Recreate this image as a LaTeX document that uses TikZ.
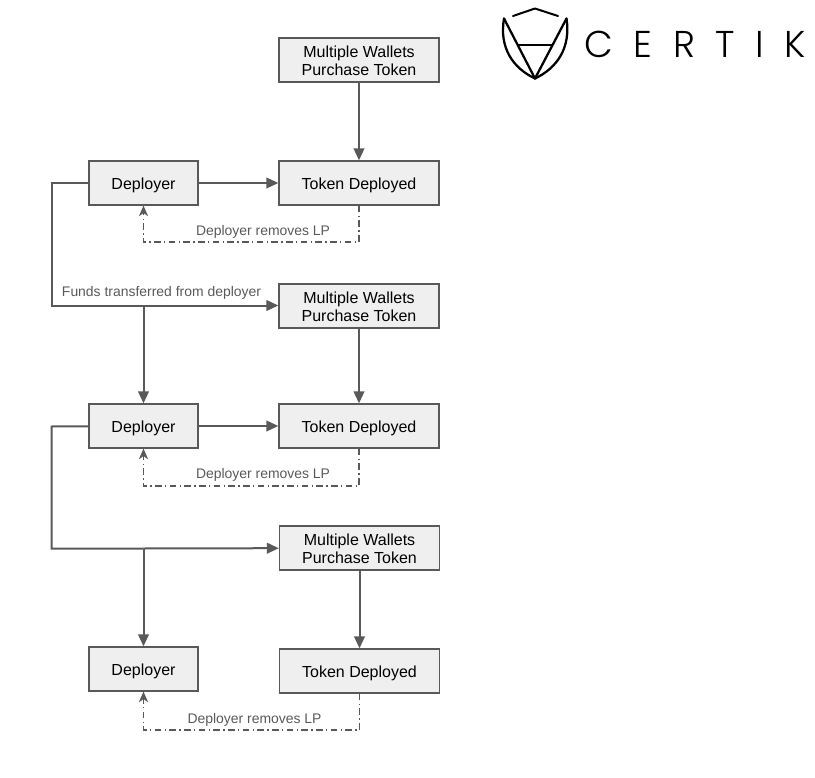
\documentclass[tikz,border=0pt]{standalone}
\usepackage{fontspec}
\setmainfont{Liberation Sans}
\newfontfamily\logofont[LetterSpace=55]{Poppins Light}
\usetikzlibrary{arrows.meta}
\definecolor{linegrey}{HTML}{595959}
\definecolor{boxgrey}{HTML}{EFEFEF}
\tikzset{every picture/.style={line width=0.75pt}}
\tikzset{
  flowbox/.style={draw=linegrey,fill=boxgrey,line width=1pt,minimum height=33pt,inner sep=0pt,align=center,font=\fontsize{12}{13.5}\selectfont},
  deployerbox/.style={flowbox,minimum width=81.75pt,text height=9.2pt,text depth=0pt},
  tokenbox/.style={flowbox,minimum width=120pt,text height=9.2pt,text depth=0pt},
  walletbox/.style={flowbox,minimum width=120pt},
  flowline/.style={draw=linegrey,line width=1.5pt,-{Triangle[length=9pt,width=8pt]}},
  fundsline/.style={draw=linegrey,line width=1.5pt},
  returnline/.style={draw=linegrey,line width=0.8pt,dash pattern=on 5pt off 2.5pt on 1pt off 2.5pt,-{Stealth[length=8pt,width=7pt,inset=2.5pt]}},
  notelabel/.style={text=linegrey,inner sep=0.75pt,font=\fontsize{10.45}{12}\selectfont}
}
\newcommand{\walletlabel}{\rule{0pt}{9.5pt}Multiple Wallets\\Purchase Token}

\begin{document}
\begin{tikzpicture}[x=0.75pt,y=0.75pt,yscale=-1,xscale=1]
\useasboundingbox (0,0) rectangle (815,778);

% Boxes
\node [walletbox] (wallets1) at (359,60) {\walletlabel};
\node [tokenbox] (token1) at (359,183) {Token Deployed};
\node [deployerbox] (deployer1) at (143.5,183) {Deployer};
\node [walletbox] (wallets2) at (359,306) {\walletlabel};
\node [tokenbox] (token2) at (359,426) {Token Deployed};
\node [deployerbox] (deployer2) at (143.5,426) {Deployer};
\node [walletbox] (wallets3) at (359.5,548) {\walletlabel};
\node [tokenbox] (token3) at (359.5,671) {Token Deployed};
\node [deployerbox] (deployer3) at (143.5,669) {Deployer};

% Turning points
\coordinate (corner1) at (51.5,183);
\coordinate (corner2) at (51.5,305.5);
\coordinate (branch1) at (143.5,305.5);
\coordinate (corner3) at (51.5,426.5);
\coordinate (corner4) at (51.5,548.5);
\coordinate (branch2) at (143.5,548.5);
\coordinate (back1a) at (359,242);
\coordinate (back1b) at (143.5,242);
\coordinate (back2a) at (359,486);
\coordinate (back2b) at (143.5,486);
\coordinate (back3a) at (359.5,730);
\coordinate (back3b) at (143.5,730);

%Straight Lines
\draw [flowline] (wallets1) -- (token1);
\draw [flowline] (deployer1) -- (token1);
\draw [flowline] (wallets2) -- (token2);
\draw [flowline] (deployer2) -- (token2);
\draw [flowline] (wallets3) -- (token3);
\draw [fundsline] (deployer1) -- (corner1) -- (corner2) -- (branch1);
\draw [flowline] (branch1) -- (wallets2.west |- branch1);
\draw [flowline] (branch1) -- (deployer2);
\draw [fundsline] (deployer2) -- (corner3) -- (corner4) -- (branch2);
\draw [flowline] (branch2) -- (wallets3);
\draw [flowline] (branch2) -- (deployer3);
\draw [returnline] (token1) -- (back1a) -- (back1b) -- (deployer1);
\draw [returnline] (token2) -- (back2a) -- (back2b) -- (deployer2);
\draw [returnline] (token3) -- (back3a) -- (back3b) -- (deployer3);

% Text Node
\node [notelabel] (note1) at (263,232) {Deployer removes LP};
\node [notelabel] (funds) at (161.5,293) {Funds transferred from deployer};
\node [notelabel] (note2) at (263,475) {Deployer removes LP};
\node [notelabel] (note3) at (254.5,720) {Deployer removes LP};

%Shape: Logo
\draw [black,line width=1.5pt,line cap=round,line join=round] (513,16) -- (535,8.5) -- (558,16);
\draw [black,line width=1.7pt,line cap=round,line join=round] (504,18.5) -- (535,78.5) -- (566.5,18.5);
\draw [black,line width=1.7pt,line cap=round,line join=round] (504,18.5) .. controls (499,48) and (513,68) .. (535,78.5) .. controls (557,68) and (571,48) .. (566.5,18.5);
\draw [black,line width=1.5pt] (518,44.5) -- (553,44.5);
\node [anchor=west,inner sep=0pt,font=\logofont\fontsize{28}{28}\selectfont] (wordmark) at (584,44.5) {CERTIK\kern-15.4pt};
\end{tikzpicture}
\end{document}
